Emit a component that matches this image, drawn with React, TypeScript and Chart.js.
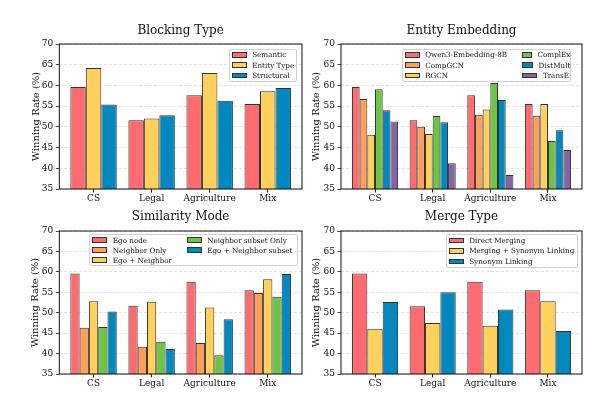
import { useEffect, useRef } from 'react'
import { Chart, registerables } from 'chart.js'

Chart.register(...registerables)

const FONT = "'DejaVu Serif', serif"

// shared axes
const categories = ['CS', 'Legal', 'Agriculture', 'Mix']
const yTicks = [35, 40, 45, 50, 55, 60, 65, 70]

// Blocking Type
const blockingLabels = ['Semantic', 'Entity Type', 'Structural']
const blockingSemantic = [59.6, 51.6, 57.6, 55.5]
const blockingEntityType = [64.2, 52.0, 63.0, 58.6]
const blockingStructural = [55.4, 52.8, 56.3, 59.4]

// Entity Embedding
const embeddingLabels = ['Qwen3-Embedding-8B', 'CompGCN', 'RGCN', 'ComplEx', 'DistMult', 'TransE']
const embQwen = [59.6, 51.6, 57.6, 55.5]
const embCompGCN = [56.7, 50.0, 52.9, 52.7]
const embRGCN = [48.1, 48.3, 54.2, 55.5]
const embComplEx = [59.1, 52.6, 60.6, 46.6]
const embDistMult = [54.0, 51.1, 56.5, 49.2]
const embTransE = [51.3, 41.2, 38.4, 44.4]

// Similarity Mode
const similarityLabels = ['Ego node', 'Neighbor Only', 'Ego + Neighbor', 'Neighbor subset Only', 'Ego + Neighbor subset']
const simEgo = [59.6, 51.7, 57.6, 55.5]
const simNeighborOnly = [46.3, 41.7, 42.6, 54.8]
const simEgoNeighbor = [52.8, 52.7, 51.3, 58.2]
const simSubsetOnly = [46.5, 42.9, 39.6, 53.9]
const simEgoSubset = [50.3, 41.1, 48.4, 59.5]

// Merge Type
const mergeLabels = ['Direct Merging', 'Merging + Synonym Linking', 'Synonym Linking']
const mergeDirect = [59.6, 51.6, 57.6, 55.5]
const mergeBoth = [46.1, 47.5, 46.8, 52.8]
const mergeSynonym = [52.6, 55.0, 50.8, 45.5]

const RED = '#ff6b6e'
const ORANGE = '#ff9f5a'
const YELLOW = '#ffd15c'
const GREEN = '#6cc644'
const BLUE = '#0088bf'
const PURPLE = '#8463a6'

interface Geo {
  left: number
  top: number
  width: number
  height: number
  yAxisWidth: number
  padRight: number
  titleTop: number
  titleBottom: number
  xAxisHeight: number
  yTitlePad: number
}

interface LegendGeo {
  left: number
  top: number
  width: number
  height: number
  rows: number
  colWidths: number[]
}

interface PanelProps {
  title: string
  labels: string[]
  values: number[][]
  colors: string[]
  geo: Geo
  legend: LegendGeo
}

const framePlugin = {
  id: 'frame',
  afterDatasetsDraw(chart: Chart) {
    const { ctx, chartArea: a } = chart
    ctx.save()
    ctx.strokeStyle = '#111'
    ctx.lineWidth = 1
    ctx.strokeRect(a.left, a.top, a.right - a.left, a.bottom - a.top)
    ctx.restore()
  },
}

function Panel({ title, labels, values, colors, geo, legend }: PanelProps) {
  const canvasRef = useRef<HTMLCanvasElement>(null)

  useEffect(() => {
    if (!canvasRef.current) return
    const chart = new Chart(canvasRef.current, {
      type: 'bar',
      data: {
        datasets: labels.map((label, i) => ({
          label,
          data: values[i].map((v, j) => ({ x: j, y: v })),
          backgroundColor: colors[i],
          borderColor: '#333',
          borderWidth: 1,
          borderSkipped: false,
          categoryPercentage: 0.8,
          barPercentage: 1,
        })),
      },
      options: {
        animation: false,
        responsive: true,
        maintainAspectRatio: false,
        layout: { padding: { left: 0, right: geo.padRight, top: 0, bottom: 0 } },
        plugins: {
          legend: { display: false },
          tooltip: { enabled: false },
          title: {
            display: true,
            fullSize: false,
            text: title,
            color: '#111',
            font: { family: FONT, size: 12, weight: 'normal' },
            padding: { top: geo.titleTop, bottom: geo.titleBottom },
          },
        },
        scales: {
          x: {
            type: 'linear',
            min: -0.59,
            max: 3.59,
            offset: false,
            afterBuildTicks: (s: any) => { s.ticks = categories.map((_, i) => ({ value: i })) },
            afterFit: (s: any) => { s.height = geo.xAxisHeight },
            ticks: {
              callback: (_v: any, i: number) => categories[i],
              color: '#111',
              font: { family: FONT, size: 9 },
              padding: 0.5,
              maxRotation: 0,
              autoSkip: false,
            },
            grid: { drawOnChartArea: false, drawTicks: true, tickLength: 3.5, tickColor: '#222', offset: false },
            border: { display: false },
          },
          y: {
            min: 35,
            max: 70,
            afterBuildTicks: (s: any) => { s.ticks = yTicks.map(v => ({ value: v })) },
            afterFit: (s: any) => { s.width = geo.yAxisWidth },
            ticks: { color: '#111', font: { family: FONT, size: 9 }, padding: 2.5 },
            grid: { color: 'rgba(0,0,0,0.14)', lineWidth: 0.8, tickColor: '#222', tickLength: 3.5 },
            border: { display: false, dash: [3, 2] },
            title: {
              display: true,
              text: 'Winning Rate (%)',
              color: '#111',
              font: { family: FONT, size: 10 },
              padding: { top: geo.yTitlePad, bottom: 0 },
            },
          },
        },
      },
      plugins: [framePlugin],
    })
    return () => { chart.destroy() }
  }, [title, labels, values, colors, geo])

  return (
    <>
      <div style={{ position: 'absolute', left: geo.left, top: geo.top, width: geo.width, height: geo.height }}>
        <canvas ref={canvasRef} />
      </div>
      <div
        style={{
          position: 'absolute',
          left: legend.left,
          top: legend.top,
          width: legend.width,
          height: legend.height,
          boxSizing: 'border-box',
          border: '1px solid #d0d0d0',
          borderRadius: 2,
          background: 'rgba(255,255,255,0.85)',
          display: 'grid',
          gridAutoFlow: 'column',
          gridTemplateRows: `repeat(${legend.rows}, ${(legend.height - 2) / legend.rows}px)`,
          gridTemplateColumns: legend.colWidths.map(w => `${w}px`).join(' '),
          paddingLeft: 2,
          fontFamily: FONT,
          fontSize: 7.2,
          color: '#111',
          whiteSpace: 'nowrap',
        }}
      >
        {labels.map((label, i) => (
          <div key={label} style={{ display: 'flex', alignItems: 'center' }}>
            <span
              style={{
                display: 'inline-block',
                width: 15,
                height: 5.5,
                boxSizing: 'border-box',
                border: '1px solid #333',
                background: colors[i],
                marginRight: 5.5,
              }}
            />
            <span>{label}</span>
          </div>
        ))}
      </div>
    </>
  )
}

const topLeft: Geo = { left: 0, top: 0, width: 306, height: 212, yAxisWidth: 59.3, padRight: 4, titleTop: 23.8, titleBottom: 5.8, xAxisHeight: 23, yTitlePad: 30 }
const topRight: Geo = { left: 300, top: 0, width: 313, height: 212, yAxisWidth: 41, padRight: 31, titleTop: 23.8, titleBottom: 5.8, xAxisHeight: 23, yTitlePad: 10 }
const bottomLeft: Geo = { left: 0, top: 200, width: 306, height: 203, yAxisWidth: 59.3, padRight: 4, titleTop: 9.5, titleBottom: 7.1, xAxisHeight: 29, yTitlePad: 29 }
const bottomRight: Geo = { left: 300, top: 200, width: 313, height: 203, yAxisWidth: 41, padRight: 31, titleTop: 9.5, titleBottom: 7.1, xAxisHeight: 29, yTitlePad: 10 }

export default function App() {
  return (
    <div style={{ position: 'absolute', left: 0, top: 0, width: 613, height: 403, background: '#fff', overflow: 'hidden' }}>
      <Panel
        title="Blocking Type"
        labels={blockingLabels}
        values={[blockingSemantic, blockingEntityType, blockingStructural]}
        colors={[RED, YELLOW, BLUE]}
        geo={topLeft}
        legend={{ left: 228.7, top: 48.7, width: 68, height: 33, rows: 3, colWidths: [64] }}
      />
      <Panel
        title="Entity Embedding"
        labels={embeddingLabels}
        values={[embQwen, embCompGCN, embRGCN, embComplEx, embDistMult, embTransE]}
        colors={[RED, ORANGE, YELLOW, GREEN, BLUE, PURPLE]}
        geo={topRight}
        legend={{ left: 401.7, top: 48.7, width: 169.3, height: 33, rows: 3, colWidths: [117.7, 48] }}
      />
      <Panel
        title="Similarity Mode"
        labels={similarityLabels}
        values={[simEgo, simNeighborOnly, simEgoNeighbor, simSubsetOnly, simEgoSubset]}
        colors={[RED, ORANGE, YELLOW, GREEN, BLUE]}
        geo={bottomLeft}
        legend={{ left: 89.3, top: 234, width: 208.4, height: 32, rows: 3, colWidths: [94.4, 110] }}
      />
      <Panel
        title="Merge Type"
        labels={mergeLabels}
        values={[mergeDirect, mergeBoth, mergeSynonym]}
        colors={[RED, YELLOW, BLUE]}
        geo={bottomRight}
        legend={{ left: 445.7, top: 234, width: 132.6, height: 34, rows: 3, colWidths: [128] }}
      />
    </div>
  )
}
